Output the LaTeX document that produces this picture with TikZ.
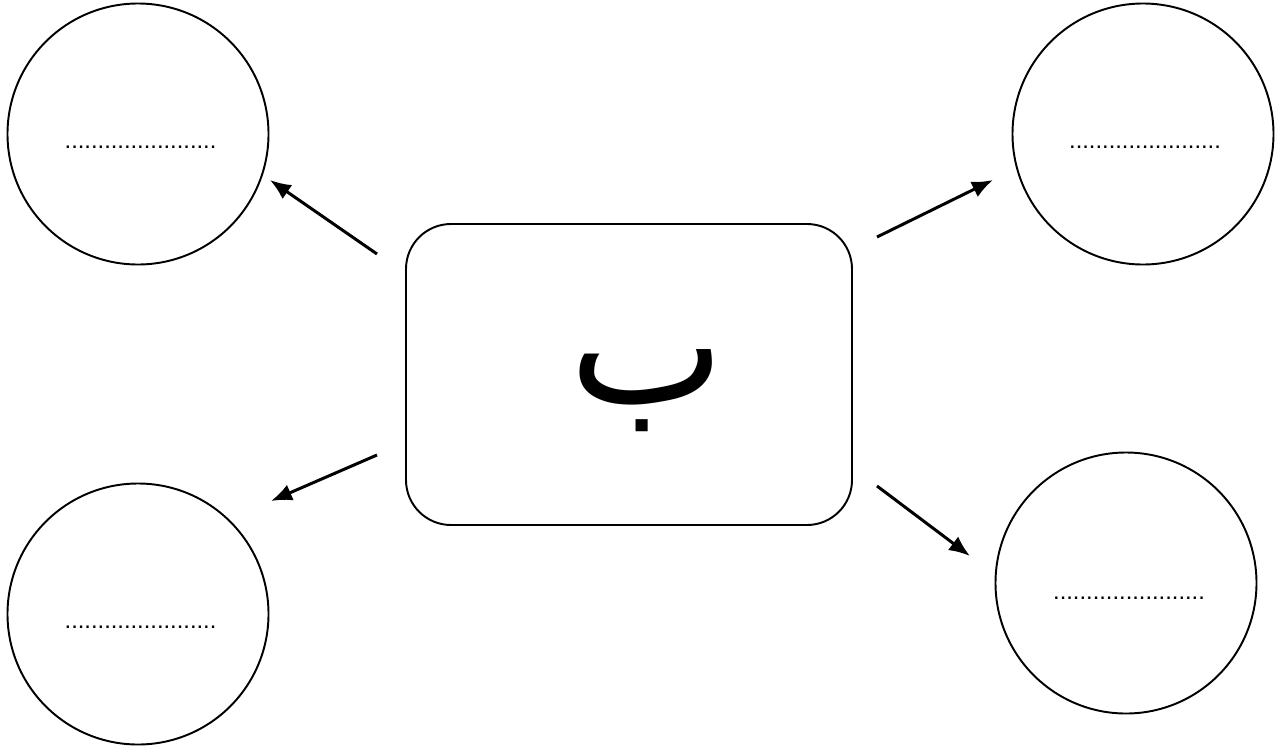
\documentclass[tikz,border=0pt]{standalone}
\usepackage{fontspec}
\setmainfont{Liberation Sans}
\newfontfamily\arabicfont[Script=Arabic]{DejaVu Sans}
\TeXXeTstate=1
\usepackage{tikz}
\usetikzlibrary{arrows.meta}
\tikzset{
  bubble/.style={draw, circle, line width=1.1pt, minimum size=5.22cm, inner sep=0pt},
  dots/.style={anchor=base, font=\fontsize{13.5}{14}\selectfont},
  pointer/.style={line width=1.7pt, -{Latex[length=0.42cm, width=0.34cm]}}
}

\begin{document}
\begin{tikzpicture}
  \useasboundingbox (0,0) rectangle (25.68,-14.92);
  % centre box with the letter
  \node[draw, rounded corners=0.9cm, line width=1.1pt, minimum width=8.92cm, minimum height=6.02cm] (box) at (12.58,-7.49) {};
  \node (letter) at (12.94,-7.82) {\arabicfont\fontsize{94}{94}\selectfont\beginR ب\endR};
  % the four empty bubbles
  \node[bubble] (tl) at (2.76,-2.68) {};
  \node[bubble] (tr) at (22.86,-2.68) {};
  \node[bubble] (bl) at (2.76,-12.28) {};
  \node[bubble] (br) at (22.52,-11.66) {};
  \node[dots] (tltext) at (2.81,-2.96) {.......................};
  \node[dots] (trtext) at (22.90,-2.96) {.......................};
  \node[dots] (bltext) at (2.81,-12.56) {.......................};
  \node[dots] (brtext) at (22.58,-11.98) {.......................};
  % arrows
  \coordinate (tlfrom) at (7.54,-5.08);   \coordinate (tlto) at (5.40,-3.60);
  \coordinate (trfrom) at (17.54,-4.74);  \coordinate (trto) at (19.86,-3.60);
  \coordinate (blfrom) at (7.54,-9.10);   \coordinate (blto) at (5.42,-10.02);
  \coordinate (brfrom) at (17.54,-9.72);  \coordinate (brto) at (19.40,-11.12);
  \draw[pointer] (tlfrom) -- (tlto);
  \draw[pointer] (trfrom) -- (trto);
  \draw[pointer] (blfrom) -- (blto);
  \draw[pointer] (brfrom) -- (brto);
\end{tikzpicture}
\end{document}
